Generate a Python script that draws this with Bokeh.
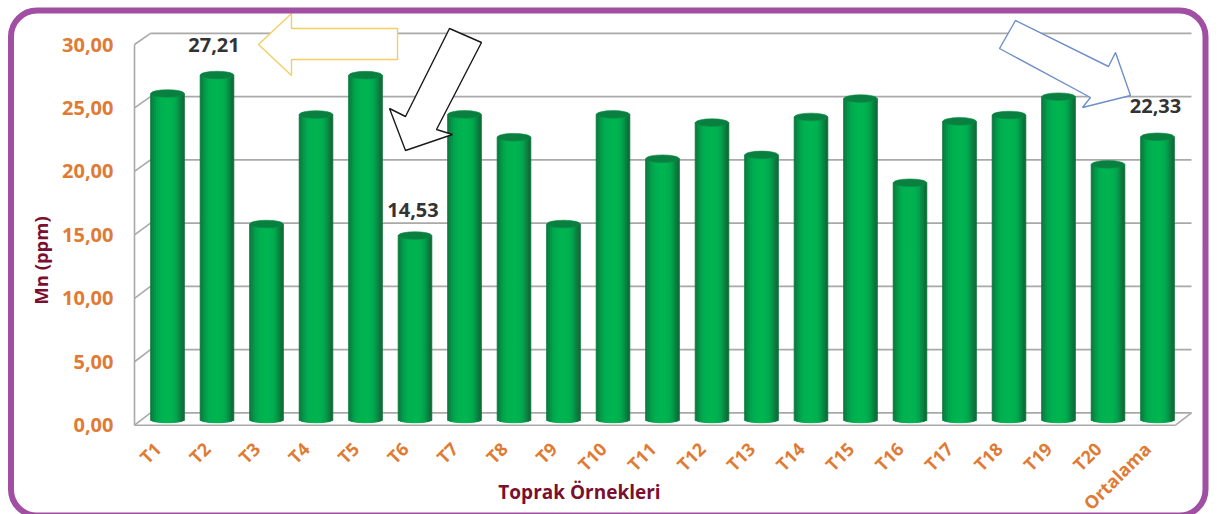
from math import pi, sqrt
from bokeh.embed import file_html
from bokeh.resources import INLINE
from bokeh.plotting import figure
from bokeh.models import Range1d, LinearAxis, FixedTicker, BoxAnnotation, Label, ColumnDataSource
from bokeh.core.properties import value

categories = ["T1","T2","T3","T4","T5","T6","T7","T8","T9","T10","T11","T12","T13","T14","T15","T16","T17","T18","T19","T20","Ortalama"]
mn_values = [25.75,27.21,15.44,24.09,27.2,14.53,24.1,22.3,15.44,24.1,20.6,23.45,20.9,23.9,25.35,18.7,23.55,24.05,25.5,20.15,22.33]
tick_values = [0,5,10,15,20,25,30]
tick_labels = {0:"0,00",5:"5,00",10:"10,00",15:"15,00",20:"20,00",25:"25,00",30:"30,00"}
callouts = ["T2","T6","Ortalama"]
callout_labels = ["27,21","14,53","22,33"]
callout_values = [27.21,14.53,22.33]
callout_lift = [30,26,31]
callout_shift = [-3,-2,-2]

W, H = 1221, 514
ORANGE = "#E07B34"
MAROON = "#7A0F2E"
DARK = "#333333"
GRID = "#A9A9A9"
FONT = "Open Sans"

def front_y(v): return 424.7 - 12.69 * v
def wall_y(v): return 412.4 - 12.65 * v
def bar_y(v): return 419.0 - 12.66 * v

def inv(fn, px):
    a = fn(0); b = fn(1) - a
    return (px - a) / b

positions = list(range(len(categories)))
PX_PER_FACTOR = 49.5
FIRST_BAR_PX = 167
def xpos(px): return (px - FIRST_BAR_PX) / PX_PER_FACTOR

# the plot frame fills the canvas; the axes are pinned inside it
p = figure(width=W, height=H, output_backend="svg", toolbar_location=None,
           x_range=Range1d(xpos(0), xpos(W)),
           y_range=Range1d(inv(front_y, H), inv(front_y, 0)),
           min_border=0,
           background_fill_color="white", border_fill_color="white", outline_line_color=None,
           x_axis_location=None, y_axis_location=None)
p.grid.visible = False
p.extra_y_ranges = {"bars": Range1d(inv(bar_y, H), inv(bar_y, 0)), "img": Range1d(H, 0)}
LABEL_SHIFT = 10  # rotated category labels sit left of their bars
p.extra_x_ranges = {"img": Range1d(0, W), "labels": Range1d(xpos(LABEL_SHIFT), xpos(W + LABEL_SHIFT))}

# value axis and category axis
ya = LinearAxis(ticker=FixedTicker(ticks=tick_values), major_label_overrides=tick_labels,
                fixed_location=xpos(132),
                axis_line_color=None, major_tick_line_color=None, minor_tick_line_color=None,
                major_tick_in=0, major_tick_out=0,
                major_label_text_color=ORANGE, major_label_text_font=FONT, major_label_text_font_style="bold",
                major_label_text_font_size="20px", major_label_standoff=19)
p.add_layout(ya, "left")
xa = LinearAxis(ticker=FixedTicker(ticks=positions), major_label_overrides=dict(zip(positions, categories)),
                fixed_location=inv(front_y, 427), x_range_name="labels",
                axis_line_color=None, major_tick_line_color=None, minor_tick_line_color=None,
                major_tick_in=0, major_tick_out=0,
                major_label_text_color=ORANGE, major_label_text_font=FONT, major_label_text_font_style="bold",
                major_label_text_font_size="18px", major_label_orientation=pi/4, major_label_standoff=18)
p.add_layout(xa, "below")

# chart box drawn on the image pixel range
kw = dict(x_range_name="img", y_range_name="img", line_color=GRID, line_width=1.6)
WL, WR, FLOOR_R = 150, 1191, 1175
for t in tick_values:
    p.line([WL, WR], [wall_y(t), wall_y(t)], **kw)
    p.line([134, WL], [front_y(t), wall_y(t)], **kw)
p.line([134, 134], [front_y(0), front_y(30)], **kw)
p.line([134, FLOOR_R], [front_y(0), front_y(0)], **kw)
p.line([FLOOR_R, WR], [front_y(0), wall_y(0)], **kw)

# cylinders from stacked strips
BAR_W = 33.4
N = 17
strip_colors = ["#0A7C3E","#078A44","#049849","#02A44D","#01AC4F","#00B050","#00B251","#00B451","#00B451",
                "#00B451","#00B251","#00B050","#01AA4E","#03A04B","#069046","#0A8040","#0D7038"]
SAG_BOT, SAG_TOP = 3.2, 3.6
for i in range(N):
    off_px = (i + 0.5) / N * BAR_W - BAR_W / 2
    e = sqrt(max(0.0, 1 - (off_px / (BAR_W / 2)) ** 2))
    src = ColumnDataSource(dict(x=[q + off_px / PX_PER_FACTOR for q in positions], top=mn_values,
                                bottom=[-SAG_BOT * e / 12.66] * len(categories)))
    p.vbar(x="x", top="top", bottom="bottom", width=BAR_W / N / PX_PER_FACTOR * 1.06, source=src,
           color=strip_colors[i], y_range_name="bars")
p.ellipse(x="x", y="top", width=BAR_W, height=2 * SAG_TOP + 0.4, width_units="screen", height_units="screen",
          source=ColumnDataSource(dict(x=positions, top=mn_values)),
          fill_color="#0A8040", line_color="#0A8A44", line_width=0.6, y_range_name="bars")

# callout values
p.text(x="x", y="v", text="t", y_offset="lift", x_offset="dx",
       source=ColumnDataSource(dict(x=[categories.index(c) for c in callouts], v=callout_values, t=callout_labels,
                                    lift=[-l for l in callout_lift], dx=callout_shift)),
       y_range_name="bars", text_align="center", text_baseline="middle", text_color=DARK,
       text_font=value(FONT), text_font_style="bold", text_font_size="20px")

# outlined arrows
def arrow(xs, ys, color):
    p.patch(xs, ys, fill_color="white", line_color=color, line_width=1.4, x_range_name="img", y_range_name="img")
arrow([258,291,291,397,397,291,291], [44,13,28,28,59,59,75], "#F2CF63")
arrow([449,481,436,452,405,389,405], [28,42,129,134,150,108,116], "#1A1A1A")
arrow([1015,1108,1115,1130,1082,1090,999], [20,66,52,95,107,97,48], "#6E8FC8")

# titles
p.add_layout(Label(x=579, y=491, x_units="canvas", y_units="canvas", text="Toprak Örnekleri",
                   text_color=MAROON, text_font=FONT, text_font_style="bold", text_font_size="19px",
                   text_align="center", text_baseline="middle"))
p.add_layout(Label(x=40, y=260, x_units="canvas", y_units="canvas", text="Mn (ppm)", angle=pi/2,
                   text_color=MAROON, text_font=FONT, text_font_style="bold", text_font_size="18.5px",
                   text_align="center", text_baseline="middle"))

# purple rounded frame
p.add_layout(BoxAnnotation(left=10.5, right=1205, top=10, bottom=515,
                           left_units="canvas", right_units="canvas", top_units="canvas", bottom_units="canvas",
                           fill_alpha=0, line_color="#A04FA3", line_alpha=1, line_width=6, border_radius=26,
                           editable=False))

open("out.html", "w").write(file_html(p, INLINE))
